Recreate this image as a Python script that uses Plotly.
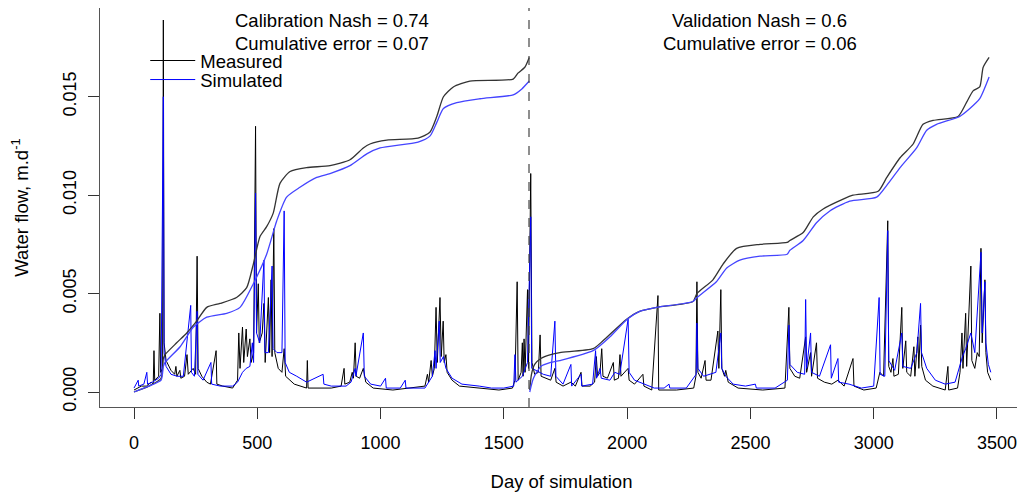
import plotly.graph_objects as go

# daily flow (m/d) at the peaks and along the recessions
meas_day = [0, 15, 30, 50, 70, 78, 81, 84, 100, 105, 108, 116, 119, 122, 130, 150, 165, 170, 174, 186,
            190, 205, 215, 220, 240, 250, 256, 260, 275, 295, 310, 333, 336, 360, 400, 420, 425, 430, 440, 445,
            455, 460, 470, 475, 485, 493, 497, 504, 508, 520, 527, 532, 545, 550, 556, 560, 567, 571, 585, 600,
            609, 615, 650, 700, 703, 706, 760, 800, 840, 852, 855, 875, 885, 890, 897, 901, 915, 930, 940, 970,
            1050, 1120, 1180, 1190, 1195, 1205, 1210, 1218, 1225, 1230, 1241, 1246, 1254, 1258, 1265, 1270, 1290, 1320, 1400, 1480,
            1535, 1545, 1554, 1558, 1570, 1575, 1578, 1582, 1586, 1596, 1600, 1609, 1614, 1625, 1640, 1647, 1651, 1670, 1690, 1707,
            1712, 1740, 1772, 1790, 1813, 1817, 1850, 1868, 1875, 1880, 1890, 1897, 1902, 1920, 1944, 1948, 1965, 1971, 1975, 2004,
            2008, 2030, 2064, 2068, 2100, 2125, 2128, 2200, 2270, 2279, 2283, 2287, 2300, 2316, 2320, 2340, 2368, 2372, 2380, 2384,
            2395, 2400, 2410, 2450, 2550, 2640, 2656, 2660, 2680, 2700, 2724, 2728, 2744, 2748, 2768, 2772, 2800, 2830, 2855, 2880,
            2916, 2920, 2960, 3010, 3025, 3040, 3057, 3061, 3070, 3078, 3082, 3100, 3114, 3118, 3130, 3134, 3150, 3163, 3167, 3179,
            3183, 3190, 3195, 3210, 3240, 3290, 3301, 3304, 3340, 3350, 3358, 3362, 3373, 3377, 3394, 3398, 3410, 3420, 3428, 3435,
            3440, 3451, 3455, 3462, 3475]
meas_flow = [0.0001, 0.0002, 0.0003, 0.0003, 0.0005, 0.0004, 0.0021, 0.0006, 0.0008, 0.0040, 0.0010, 0.0012, 0.0189, 0.0025, 0.0016, 0.0011, 0.0009, 0.0013, 0.0008, 0.0011,
             0.0007, 0.0008, 0.0019, 0.0009, 0.0012, 0.0009, 0.0069, 0.0012, 0.0008, 0.0005, 0.0004, 0.0021, 0.0004, 0.0003, 0.0002, 0.0006, 0.0030, 0.0012, 0.0033, 0.0015,
             0.0032, 0.0018, 0.0027, 0.0015, 0.0020, 0.0135, 0.0030, 0.0055, 0.0025, 0.0030, 0.0045, 0.0015, 0.0048, 0.0020, 0.0057, 0.0018, 0.0083, 0.0020, 0.0012, 0.0010,
             0.0022, 0.0008, 0.0004, 0.0002, 0.0016, 0.0002, 0.0002, 0.0002, 0.0003, 0.0012, 0.0004, 0.0005, 0.0010, 0.0007, 0.0025, 0.0008, 0.0007, 0.0012, 0.0005, 0.0002,
             0.0001, 0.0002, 0.0003, 0.0009, 0.0005, 0.0016, 0.0008, 0.0012, 0.0043, 0.0015, 0.0048, 0.0018, 0.0036, 0.0015, 0.0019, 0.0010, 0.0006, 0.0003, 0.0002, 0.0001,
             0.0002, 0.0006, 0.0056, 0.0006, 0.0010, 0.0025, 0.0008, 0.0027, 0.0010, 0.0052, 0.0012, 0.0111, 0.0015, 0.0009, 0.0010, 0.0029, 0.0008, 0.0007, 0.0006, 0.0012,
             0.0005, 0.0003, 0.0005, 0.0003, 0.0010, 0.0003, 0.0003, 0.0005, 0.0018, 0.0008, 0.0010, 0.0022, 0.0008, 0.0007, 0.0015, 0.0006, 0.0007, 0.0019, 0.0008, 0.0012,
             0.0006, 0.0004, 0.0009, 0.0003, 0.0001, 0.0049, 0.0001, 0.0001, 0.0002, 0.0008, 0.0056, 0.0010, 0.0007, 0.0016, 0.0006, 0.0006, 0.0031, 0.0012, 0.0052, 0.0012,
             0.0008, 0.0011, 0.0005, 0.0002, 0.0001, 0.0002, 0.0043, 0.0012, 0.0008, 0.0007, 0.0028, 0.0010, 0.0020, 0.0008, 0.0025, 0.0007, 0.0005, 0.0004, 0.0006, 0.0003,
             0.0017, 0.0003, 0.0001, 0.0002, 0.0010, 0.0008, 0.0087, 0.0013, 0.0010, 0.0017, 0.0008, 0.0009, 0.0043, 0.0012, 0.0026, 0.0010, 0.0008, 0.0023, 0.0008, 0.0028,
             0.0012, 0.0034, 0.0013, 0.0006, 0.0003, 0.0001, 0.0013, 0.0001, 0.0002, 0.0010, 0.0030, 0.0012, 0.0040, 0.0013, 0.0064, 0.0016, 0.0012, 0.0020, 0.0018, 0.0073,
             0.0025, 0.0057, 0.0020, 0.0010, 0.0006]

sim_day = [0, 17, 19, 40, 52, 55, 75, 100, 110, 119, 122, 130, 150, 175, 200, 230, 233, 245, 256, 259,
           280, 312, 315, 350, 400, 420, 440, 455, 470, 480, 485, 493, 497, 510, 527, 531, 545, 560, 564, 580,
           600, 609, 613, 630, 660, 700, 767, 770, 800, 860, 880, 897, 900, 930, 934, 960, 1000, 1020, 1023, 1080,
           1100, 1103, 1180, 1210, 1221, 1225, 1238, 1242, 1255, 1265, 1290, 1330, 1400, 1450, 1500, 1540, 1545, 1549, 1575, 1596,
           1609, 1613, 1630, 1660, 1690, 1707, 1711, 1740, 1772, 1775, 1813, 1816, 1860, 1872, 1876, 1890, 1895, 1930, 1950, 1970,
           2004, 2008, 2030, 2070, 2110, 2150, 2170, 2173, 2240, 2280, 2283, 2287, 2310, 2360, 2380, 2384, 2400, 2430, 2480, 2520,
           2524, 2600, 2650, 2656, 2660, 2690, 2720, 2724, 2728, 2744, 2748, 2780, 2825, 2828, 2855, 2858, 2900, 2950, 3000, 3022,
           3026, 3045, 3057, 3061, 3085, 3114, 3118, 3150, 3175, 3190, 3194, 3215, 3250, 3290, 3330, 3360, 3373, 3394, 3410, 3435,
           3440, 3451, 3455, 3465, 3475]
sim_flow = [0.0002, 0.0006, 0.0003, 0.0004, 0.0010, 0.0004, 0.0005, 0.0007, 0.0009, 0.0150, 0.0020, 0.0013, 0.0009, 0.0008, 0.0008, 0.0044, 0.0010, 0.0008, 0.0041, 0.0009,
            0.0006, 0.0015, 0.0004, 0.0003, 0.0003, 0.0005, 0.0010, 0.0012, 0.0013, 0.0025, 0.0015, 0.0101, 0.0030, 0.0025, 0.0067, 0.0020, 0.0020, 0.0064, 0.0022, 0.0020,
            0.0020, 0.0092, 0.0015, 0.0010, 0.0008, 0.0005, 0.0009, 0.0004, 0.0003, 0.0003, 0.0005, 0.0012, 0.0008, 0.0030, 0.0008, 0.0004, 0.0003, 0.0007, 0.0002, 0.0002,
            0.0006, 0.0002, 0.0002, 0.0008, 0.0021, 0.0012, 0.0036, 0.0015, 0.0018, 0.0012, 0.0007, 0.0004, 0.0003, 0.0002, 0.0002, 0.0003, 0.0019, 0.0005, 0.0008, 0.0015,
            0.0089, 0.0012, 0.0011, 0.0009, 0.0008, 0.0036, 0.0008, 0.0004, 0.0014, 0.0003, 0.0009, 0.0003, 0.0004, 0.0021, 0.0007, 0.0012, 0.0007, 0.0006, 0.0010, 0.0009,
            0.0037, 0.0010, 0.0006, 0.0004, 0.0002, 0.0002, 0.0004, 0.0002, 0.0002, 0.0009, 0.0035, 0.0012, 0.0008, 0.0010, 0.0030, 0.0012, 0.0008, 0.0004, 0.0003, 0.0004,
            0.0002, 0.0002, 0.0006, 0.0034, 0.0014, 0.0010, 0.0009, 0.0047, 0.0012, 0.0030, 0.0010, 0.0008, 0.0024, 0.0007, 0.0017, 0.0005, 0.0004, 0.0002, 0.0003, 0.0048,
            0.0009, 0.0008, 0.0082, 0.0016, 0.0011, 0.0030, 0.0013, 0.0012, 0.0020, 0.0045, 0.0020, 0.0012, 0.0006, 0.0004, 0.0005, 0.0018, 0.0022, 0.0030, 0.0020, 0.0071,
            0.0030, 0.0056, 0.0025, 0.0014, 0.0010]

# cumulative flow (scaled), calibration and validation periods
cal_meas_day = [0, 60, 110, 119, 126, 173, 214, 254, 295, 349, 416, 457, 484, 511, 538, 565, 592, 633, 700, 795,
                876, 930, 957, 1025, 1152, 1200, 1228, 1255, 1295, 1362, 1538, 1557, 1585, 1603]
cal_meas_cum = [0.0000, 0.0003, 0.0007, 0.0017, 0.0019, 0.0025, 0.0030, 0.0036, 0.0043, 0.0045, 0.0048, 0.0053, 0.0065, 0.0079, 0.0084, 0.0091, 0.0106, 0.0112, 0.0114, 0.0115,
                0.0118, 0.0124, 0.0126, 0.0128, 0.0129, 0.0132, 0.0140, 0.0150, 0.0155, 0.0158, 0.0159, 0.0162, 0.0165, 0.0170]
cal_sim_day = [0, 60, 110, 119, 126, 187, 241, 295, 376, 430, 484, 538, 579, 619, 673, 741, 795, 876, 944, 998,
               1152, 1200, 1228, 1255, 1309, 1403, 1538, 1573, 1603]
cal_sim_cum = [0.0000, 0.0003, 0.0006, 0.0013, 0.0015, 0.0023, 0.0033, 0.0038, 0.0040, 0.0043, 0.0055, 0.0070, 0.0087, 0.0099, 0.0104, 0.0109, 0.0111, 0.0115, 0.0121, 0.0124,
               0.0127, 0.0130, 0.0137, 0.0144, 0.0147, 0.0149, 0.0151, 0.0154, 0.0158]

val_meas_day = [1605, 1612, 1625, 1650, 1690, 1727, 1862, 1902, 1998, 2051, 2120, 2267, 2283, 2348, 2389, 2444, 2539, 2649, 2660, 2714,
                2755, 2795, 2876, 2916, 3018, 3053, 3107, 3160, 3200, 3241, 3342, 3376, 3403, 3430, 3444, 3468]
val_meas_cum = [0.0001, 0.0009, 0.0014, 0.0017, 0.0019, 0.0020, 0.0022, 0.0026, 0.0037, 0.0041, 0.0043, 0.0046, 0.0050, 0.0057, 0.0065, 0.0073, 0.0075, 0.0076, 0.0077, 0.0081,
                0.0089, 0.0093, 0.0098, 0.0100, 0.0102, 0.0109, 0.0119, 0.0126, 0.0136, 0.0138, 0.0140, 0.0147, 0.0153, 0.0155, 0.0165, 0.0170]
val_sim_day = [1605, 1620, 1650, 1690, 1727, 1862, 1930, 2000, 2051, 2120, 2267, 2283, 2362, 2404, 2457, 2539, 2649, 2660, 2714, 2768,
               2822, 2903, 3012, 3053, 3107, 3174, 3215, 3255, 3349, 3390, 3430, 3468]
val_sim_cum = [0.0000, 0.0007, 0.0013, 0.0015, 0.0016, 0.0021, 0.0028, 0.0037, 0.0041, 0.0043, 0.0046, 0.0048, 0.0056, 0.0063, 0.0067, 0.0069, 0.0070, 0.0072, 0.0077, 0.0086,
               0.0092, 0.0097, 0.0099, 0.0105, 0.0114, 0.0124, 0.0133, 0.0136, 0.0140, 0.0144, 0.0149, 0.0160]

split_day = 1602
last_day = 3475
cal_lines = ["Calibration Nash = 0.74", "Cumulative error = 0.07"]
val_lines = ["Validation Nash = 0.6", "Cumulative error = 0.06"]
text_y = [0.01890, 0.01773]

FONT = "Liberation Sans, Arial, sans-serif"

fig = go.Figure()
fig.add_trace(go.Scatter(x=meas_day, y=meas_flow, mode="lines", name="Measured",
                         line=dict(color="black", width=1), legend="legend"))
fig.add_trace(go.Scatter(x=sim_day, y=sim_flow, mode="lines", name="Simulated",
                         line=dict(color="#0000ff", width=1), legend="legend2"))
fig.add_trace(go.Scatter(x=cal_meas_day + [None] + val_meas_day, y=cal_meas_cum + [None] + val_meas_cum,
                         mode="lines", line=dict(color="#333333", width=1.3, shape="spline", smoothing=0.6),
                         showlegend=False))
fig.add_trace(go.Scatter(x=cal_sim_day + [None] + val_sim_day, y=cal_sim_cum + [None] + val_sim_cum,
                         mode="lines", line=dict(color="#4444ff", width=1.3, shape="spline", smoothing=0.6),
                         showlegend=False))

fig.add_vline(x=split_day, line=dict(color="#444444", width=1.2, dash="dash"))

for txt, ty in zip(cal_lines, text_y):
    fig.add_annotation(x=split_day / 2, y=ty, text=txt, showarrow=False, yanchor="middle",
                       font=dict(size=18.5, color="black", family=FONT))
for txt, ty in zip(val_lines, text_y):
    fig.add_annotation(x=(split_day + last_day) / 2, y=ty, text=txt, showarrow=False, yanchor="middle",
                       font=dict(size=18.5, color="black", family=FONT))

leg = dict(x=0.049, xanchor="left", yanchor="middle", bgcolor="rgba(0,0,0,0)",
           font=dict(size=18.5), itemwidth=45)

# the page body adds an 8px offset, so the figure is 8px smaller than the window
fig.update_layout(
    width=1017, height=493,
    margin=dict(l=92, r=2, t=0, b=94),
    plot_bgcolor="white", paper_bgcolor="white",
    font=dict(family=FONT, size=18, color="black"),
    legend=dict(leg, y=0.8672),
    legend2=dict(leg, y=0.8195),
    xaxis=dict(range=[-137.9, 3605.5], tickvals=[0, 500, 1000, 1500, 2000, 2500, 3000, 3500],
               ticks="outside", ticklen=11, tickcolor="#333", showgrid=False, zeroline=False,
               showline=True, linecolor="#555", mirror=True, automargin=False, ticklabelstandoff=8,
               title=dict(text="Day of simulation", standoff=23, font=dict(size=18.5))),
    yaxis=dict(range=[-0.000762, 0.01951], tickvals=[0, 0.005, 0.01, 0.015], tickformat=".3f",
               tickangle=-90, ticks="outside", ticklen=11, tickcolor="#333", showgrid=False, zeroline=False,
               showline=True, linecolor="#555", mirror=True, automargin=False, ticklabelstandoff=5,
               title=dict(text="Water flow, m.d<sup>-1</sup>", standoff=30, font=dict(size=18.5))),
)

fig.write_html("out.html")
